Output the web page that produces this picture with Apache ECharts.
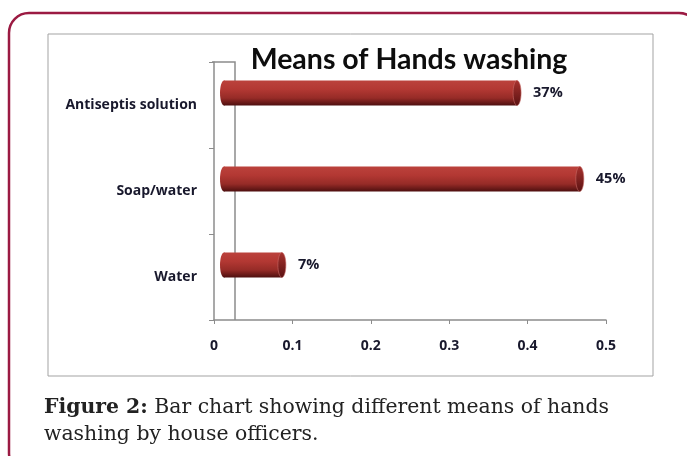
<!DOCTYPE html>
<html>
<head>
<meta charset="utf-8">
<script src="https://cdn.jsdelivr.net/npm/echarts@6/dist/echarts.min.js"></script>
<style>
  html, body { margin: 0; padding: 0; background: #fff; }
  #main { width: 687px; height: 456px; }
</style>
</head>
<body>
<div id="main"></div>
<script>
  // data
  var categories = ['Antiseptis solution', 'Soap/water', 'Water'];
  var shares = [0.37, 0.45, 0.07];
  var shareLabels = ['37%', '45%', '7%'];
  var xTicks = [0, 0.1, 0.2, 0.3, 0.4, 0.5];

  var chart = echarts.init(document.getElementById('main'));

  // fake 3D: bars sit a little right of and above the band centre
  var DX = 7, DY = -12, BAR_H = 25;

  function renderBar(params, api) {
    var cat = api.value(0);
    var val = api.value(1);
    var p0 = api.coord([0, cat]);
    var p1 = api.coord([val, cat]);
    var xs = p0[0] + DX, xe = p1[0] + DX + 6;
    var cy = p0[1] + DY;
    var top = cy - BAR_H / 2;
    var body = new echarts.graphic.LinearGradient(0, 0, 0, 1, [
      { offset: 0, color: '#bb423c' },
      { offset: 0.35, color: '#b33833' },
      { offset: 0.7, color: '#962b27' },
      { offset: 1, color: '#4e0f0f' }
    ]);
    return {
      type: 'group',
      children: [
        { type: 'ellipse', shape: { cx: xs + 3, cy: cy, rx: 4, ry: BAR_H / 2 }, style: { fill: body } },
        { type: 'rect', shape: { x: xs + 3, y: top, width: xe - xs - 3, height: BAR_H }, style: { fill: body } },
        { type: 'ellipse', shape: { cx: xe, cy: cy, rx: 4, ry: BAR_H / 2 },
          style: { fill: new echarts.graphic.LinearGradient(0, 0, 0, 1, [
            { offset: 0, color: '#a8322e' }, { offset: 1, color: '#5a1212' }]),
            stroke: '#c76a66', lineWidth: 0.6 } },
        { type: 'text', x: xe + 16, y: cy,
          style: { text: shareLabels[params.dataIndex], fill: '#18182c',
                   font: 'bold 14.5px "Open Sans"', verticalAlign: 'middle', align: 'left' } }
      ]
    };
  }

  chart.setOption({
    animation: false,
    title: {
      text: 'Means of Hands washing',
      left: 404, top: 40, textAlign: 'center',
      textStyle: { fontFamily: 'Lato', fontWeight: 'bold', fontSize: 28.5, color: '#0d0d0d' }
    },
    grid: { left: 214, right: 81, top: 62, bottom: 136 },
    xAxis: {
      type: 'value', min: 0, max: 0.5, interval: 0.1,
      axisLine: { show: true, lineStyle: { color: '#8c8c8c', width: 1.5 } },
      axisTick: { show: true, length: 4, lineStyle: { color: '#8c8c8c' } },
      splitLine: { show: false },
      axisLabel: {
        margin: 19, color: '#18182c', fontFamily: 'Open Sans', fontWeight: 'bold', fontSize: 14,
        formatter: function (v) {
          for (var i = 0; i < xTicks.length; i++) if (Math.abs(xTicks[i] - v) < 1e-9) return String(xTicks[i]);
          return '';
        }
      }
    },
    yAxis: {
      type: 'category', data: categories, inverse: true,
      axisLine: { show: true, lineStyle: { color: '#8c8c8c', width: 1.5 } },
      axisTick: { show: true, length: 5, lineStyle: { color: '#8c8c8c' } },
      axisLabel: { margin: 17, color: '#18182c', fontFamily: 'Open Sans', fontWeight: 'bold', fontSize: 14 }
    },
    graphic: [
      // outer figure frame
      { type: 'rect', shape: { x: 9, y: 13, width: 690, height: 460, r: 20 },
        style: { fill: 'none', stroke: '#9b1a42', lineWidth: 2.5 }, z: -1 },
      // chart area frame
      { type: 'rect', shape: { x: 48, y: 34, width: 605, height: 342 },
        style: { fill: 'none', stroke: '#a3a3a3', lineWidth: 1 }, z: -1 },
      // back wall of the 3D plot
      { type: 'polyline', shape: { points: [[212, 62], [235, 62], [235, 320]] },
        style: { fill: 'none', stroke: '#8c8c8c', lineWidth: 1.5 } },
      // caption
      { type: 'text', left: 44, top: 394,
        style: {
          text: '{b|Figure 2:} Bar chart showing different means of hands\nwashing by house officers.',
          font: '20.4px "DejaVu Serif"', fill: '#222', lineHeight: 27,
          rich: { b: { fontWeight: 'bold', fontFamily: 'DejaVu Serif', fontSize: 20.4, fill: '#222' } }
        } }
    ],
    series: [{
      type: 'custom',
      renderItem: renderBar,
      encode: { x: 1, y: 0 },
      data: shares.map(function (v, i) { return [i, v]; })
    }]
  });
</script>
</body>
</html>
